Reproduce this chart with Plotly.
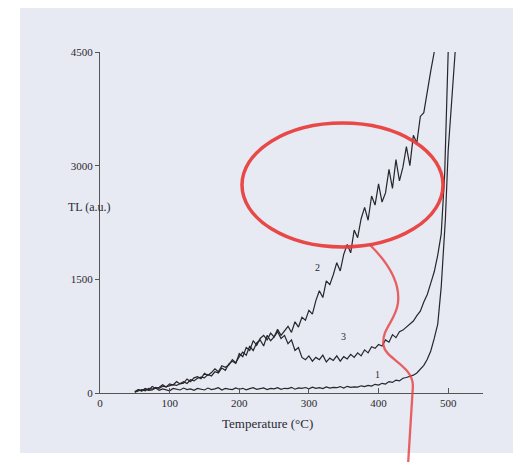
import plotly.graph_objects as go

# ---- data ----
temp_2 = [50,55,60,65,70,75,80,85,90,95,100,105,110,115,120,125,130,135,140,145,150,155,160,165,170,175,
          180,185,190,195,200,205,210,215,220,225,230,235,240,245,250,255,260,265,270,275,280,285,290,295,
          300,305,310,315,320,325,330,335,340,345,350,355,360,365,370,375,380,385,390,395,400,405,410,415,
          420,425,430,435,440,445,450,455,460,465,470,475,480]
tl_2 = [20,45,30,60,40,85,60,75,110,80,
        120,105,150,120,130,185,150,200,215,190,
        260,230,270,320,280,360,340,370,440,400,
        480,540,500,620,560,660,700,620,760,690,
        740,840,760,820,880,800,940,870,1000,960,
        1090,1040,1220,1350,1260,1480,1430,1560,1720,1610,
        1830,1960,1850,2150,2050,2300,2450,2280,2600,2480,
        2760,2520,2640,2950,2700,3080,2800,2980,3250,3000,
        3400,3300,3650,3700,4000,4250,4500]

temp_3 = [50,55,60,65,70,75,80,85,90,95,100,105,110,115,120,125,130,135,140,145,150,155,160,165,170,175,
          180,185,190,195,200,205,210,215,220,225,230,235,240,245,250,255,260,265,270,275,280,285,290,295,
          300,305,310,315,320,325,330,335,340,345,350,355,360,365,370,375,380,385,390,395,400,405,410,415,
          420,425,430,435,440,445,450,455,460,465,470,475,480,485,490,495,498,500]
tl_3 = [10,30,45,30,60,50,75,60,90,80,
        95,110,100,130,150,125,175,160,195,210,
        200,245,225,280,265,330,300,385,420,390,
        520,480,600,560,690,630,720,760,700,790,
        740,810,720,760,650,700,560,600,470,440,
        490,420,470,440,500,410,460,430,490,420,
        480,450,510,470,530,490,570,530,610,590,
        640,620,700,670,770,730,810,830,870,920,
        950,1020,1080,1200,1300,1450,1600,1820,2100,2900,
        3700,4500]

temp_1 = [50,55,60,65,70,75,80,85,90,95,100,105,110,115,120,125,130,135,140,145,150,155,160,165,170,175,
          180,185,190,195,200,205,210,215,220,225,230,235,240,245,250,255,260,265,270,275,280,285,290,295,
          300,305,310,315,320,325,330,335,340,345,350,355,360,365,370,375,380,385,390,395,400,405,410,415,
          420,425,430,435,440,445,450,455,460,465,470,475,480,485,490,493,496,500,503,506,510]
tl_1 = [10,45,25,55,35,40,65,35,55,45,
        30,60,50,40,65,45,55,35,60,50,
        40,65,45,55,70,40,60,50,45,68,
        50,62,42,58,70,48,55,66,45,60,
        55,70,48,62,58,75,50,68,60,72,
        55,78,62,70,58,80,65,75,70,85,
        66,88,74,82,78,95,85,100,92,115,
        105,128,118,150,140,170,160,195,205,220,
        235,265,315,365,445,555,720,910,1400,
        1900,2300,3200,3600,3900,4500]

x_ticks = [0, 100, 200, 300, 400, 500, 550]
x_tick_text = ["0", "100", "200", "300", "400", "500", ""]
y_ticks = [0, 1500, 3000, 4500]
y_tick_text = ["0", "1500", "3000", "4500"]

curve_labels = ["1", "2", "3"]
label_temp = [398, 313, 349]
label_tl = [238, 1650, 740]

line_col = "#26262b"
text_col = "#2a2a30"
serif = "Liberation Serif, Times New Roman, serif"

# page body adds 8px offset; plot area is at window px x 100..483, y 52..393
OFF = 8
L, R_, T, B = 100 - OFF, 521 - 483 + OFF, 52 - OFF, 462 - 393 + OFF

fig = go.Figure()
for t, v in [(temp_1, tl_1), (temp_3, tl_3), (temp_2, tl_2)]:
    fig.add_trace(go.Scatter(x=t, y=v, mode="lines",
                             line=dict(color=line_col, width=1.2), showlegend=False,
                             hoverinfo="skip"))

for lab, tx, ty in zip(curve_labels, label_temp, label_tl):
    fig.add_annotation(x=tx, y=ty, text=lab, showarrow=False,
                       font=dict(family=serif, size=10, color=text_col))

def px(xw):
    return (xw - 100) / 383

def py(yw):
    return (393 - yw) / 341

# background panel (scanned page)
fig.add_shape(type="rect", xref="paper", yref="paper",
              x0=px(20), x1=px(535), y0=py(453), y1=py(7),
              fillcolor="#e7e9f3", line=dict(width=0), layer="below")

# red highlight ellipse
fig.add_shape(type="circle", xref="paper", yref="paper",
              x0=px(242), x1=px(443), y0=py(247), y1=py(123),
              line=dict(color="rgba(232,58,55,0.92)", width=3.5), layer="above")

# red hand-drawn line
fig.add_shape(type="path", xref="paper", yref="paper",
              path="M 0.705,0.434 C 0.745,0.39 0.785,0.33 0.778,0.264 "
                   "C 0.772,0.21 0.735,0.19 0.740,0.14 "
                   "C 0.745,0.10 0.818,0.08 0.817,0.02 "
                   "L 0.804,-0.215",
              line=dict(color="rgba(232,70,70,0.85)", width=2.3), layer="above")

fig.add_annotation(xref="paper", yref="paper", x=px(267), y=py(433),
                   text="Temperature (°C)", showarrow=False,
                   font=dict(family=serif, size=13, color=text_col))
fig.add_annotation(xref="paper", yref="paper", x=px(66), y=py(207),
                   text="TL (a.u.)", showarrow=False,
                   font=dict(family=serif, size=12, color=text_col))

fig.update_layout(
    width=521, height=462,
    margin=dict(l=L, r=R_, t=T, b=B),
    paper_bgcolor="white", plot_bgcolor="rgba(0,0,0,0)",
    xaxis=dict(range=[0, 550], tickvals=x_ticks, ticktext=x_tick_text,
               showgrid=False, zeroline=False, showline=True, linecolor="#555", linewidth=1,
               ticks="inside", ticklen=5, tickcolor="#555",
               tickfont=dict(family=serif, size=11, color=text_col)),
    yaxis=dict(range=[0, 4500], tickvals=y_ticks, ticktext=y_tick_text,
               showgrid=False, zeroline=False, showline=True, linecolor="#555", linewidth=1,
               ticks="outside", ticklen=4, tickcolor="#555",
               tickfont=dict(family=serif, size=11, color=text_col)),
)

fig.write_html("out.html")
